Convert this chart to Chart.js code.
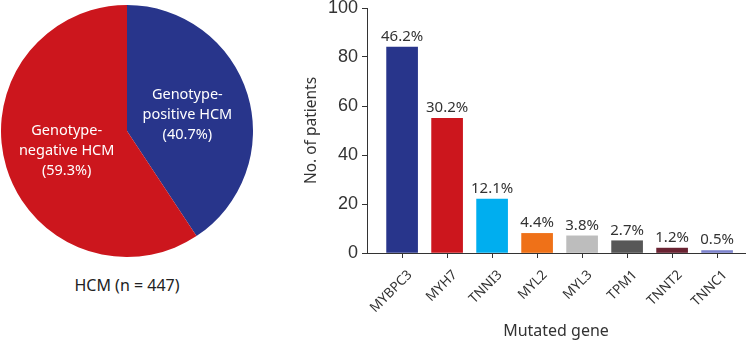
<!DOCTYPE html>
<html>
<head>
<meta charset="utf-8">
<script src="https://cdn.jsdelivr.net/npm/chart.js@4.4.1/dist/chart.umd.min.js"></script>
<style>
    body { margin: 0; background: #fff; width: 750px; height: 341px; position: relative; overflow: hidden; }
    #pieBox { position: absolute; left: 1px; top: 5px; width: 252px; height: 252px; }
    #barBox { position: absolute; left: 280px; top: 0; width: 470px; height: 341px; }
    #pieCaption { position: absolute; left: 0; width: 254px; top: 274px; text-align: center;
        font-family: 'Noto Sans', sans-serif; font-size: 16px; color: #222; }
</style>
</head>
<body>
<div id="pieBox"><canvas id="pieChart" width="252" height="252"></canvas></div>
<div id="pieCaption">HCM (n = 447)</div>
<div id="barBox"><canvas id="barChart" width="470" height="341"></canvas></div>
<script>
// Pie: genotype split
const pieLabels = [['Genotype-', 'positive HCM', '(40.7%)'], ['Genotype-', 'negative HCM', '(59.3%)']];
const pieValues = [40.7, 59.3];
const pieColors = ['#28358b', '#cc161d'];

// Bars: mutated genes
const genes = ['MYBPC3', 'MYH7', 'TNNI3', 'MYL2', 'MYL3', 'TPM1', 'TNNT2', 'TNNC1'];
const patients = [84, 55, 22, 8, 7, 5, 2, 1];
const percents = ['46.2%', '30.2%', '12.1%', '4.4%', '3.8%', '2.7%', '1.2%', '0.5%'];
const barColors = ['#28358b', '#cc161d', '#00aeef', '#ef7118', '#bdbdbd', '#575757', '#6a2332', '#7c82cc'];
const yTicks = [0, 20, 40, 60, 80, 100];

const textColor = '#333';

const pieTextPlugin = {
    id: 'pieText',
    afterDatasetsDraw(chart) {
        const ctx = chart.ctx;
        const meta = chart.getDatasetMeta(0);
        ctx.save();
        ctx.fillStyle = '#fff';
        ctx.font = '14.5px "Noto Sans", sans-serif';
        ctx.textAlign = 'center';
        ctx.textBaseline = 'middle';
        meta.data.forEach((arc, i) => {
            const p = arc.getCenterPoint();
            const lines = pieLabels[i];
            lines.forEach((line, j) => {
                ctx.fillText(line, p.x, p.y + 2 + (j - 1) * 20);
            });
        });
        ctx.restore();
    }
};

new Chart(document.getElementById('pieChart').getContext('2d'), {
    type: 'pie',
    data: {
        labels: pieLabels.map(l => l.join(' ')),
        datasets: [{
            data: pieValues,
            backgroundColor: pieColors,
            borderWidth: 0
        }]
    },
    options: {
        responsive: false,
        animation: false,
        plugins: {
            legend: { display: false },
            tooltip: { enabled: false }
        }
    },
    plugins: [pieTextPlugin]
});

const pctPlugin = {
    id: 'pctLabels',
    afterDatasetsDraw(chart) {
        const ctx = chart.ctx;
        const meta = chart.getDatasetMeta(0);
        ctx.save();
        ctx.fillStyle = textColor;
        ctx.font = '15px "Noto Sans", sans-serif';
        ctx.textAlign = 'center';
        ctx.textBaseline = 'bottom';
        meta.data.forEach((bar, i) => {
            ctx.fillText(percents[i], bar.x, bar.y - 3);
        });
        ctx.restore();
    }
};

new Chart(document.getElementById('barChart').getContext('2d'), {
    type: 'bar',
    data: {
        datasets: [{
            data: patients.map((v, i) => ({ x: i, y: v })),
            backgroundColor: barColors,
            barThickness: 31
        }]
    },
    options: {
        responsive: false,
        animation: false,
        layout: { padding: { top: 8, right: 5, bottom: 0, left: 0 } },
        plugins: {
            legend: { display: false },
            tooltip: { enabled: false }
        },
        scales: {
            x: {
                type: 'linear',
                offset: false,
                min: -0.78,
                max: 7.62,
                afterBuildTicks(scale) {
                    scale.ticks = genes.map((g, i) => ({ value: i }));
                },
                afterFit(scale) {
                    scale.height = 88;
                    scale.paddingLeft = 0;
                    scale.paddingRight = 0;
                },
                border: { display: true, color: textColor, width: 1 },
                grid: { offset: false, drawOnChartArea: false, drawTicks: true, tickLength: 5, color: textColor },
                ticks: {
                    autoSkip: false,
                    minRotation: 45,
                    maxRotation: 45,
                    padding: 9,
                    labelOffset: 8,
                    color: textColor,
                    font: { family: '"Noto Sans", sans-serif', size: 13.5 },
                    callback: (v) => genes[v]
                },
                title: {
                    display: true,
                    text: 'Mutated gene',
                    color: textColor,
                    font: { family: '"Noto Sans", sans-serif', size: 16 },
                    padding: { top: 0, bottom: 0 }
                }
            },
            y: {
                min: 0,
                max: 100,
                afterBuildTicks(scale) {
                    scale.ticks = yTicks.map(v => ({ value: v }));
                },
                afterFit(scale) {
                    scale.width = 87;
                    scale.paddingTop = 0;
                    scale.paddingBottom = 0;
                },
                border: { display: true, color: textColor, width: 1 },
                grid: { drawOnChartArea: false, drawTicks: true, tickLength: 5, color: textColor },
                ticks: {
                    padding: 4,
                    color: textColor,
                    font: { family: '"Liberation Sans", Arial, sans-serif', size: 18 }
                },
                title: {
                    display: true,
                    text: 'No. of patients',
                    color: textColor,
                    font: { family: '"Noto Sans", sans-serif', size: 15.5 },
                    padding: { top: 22, bottom: 0 }
                }
            }
        }
    },
    plugins: [pctPlugin]
});
</script>
</body>
</html>
